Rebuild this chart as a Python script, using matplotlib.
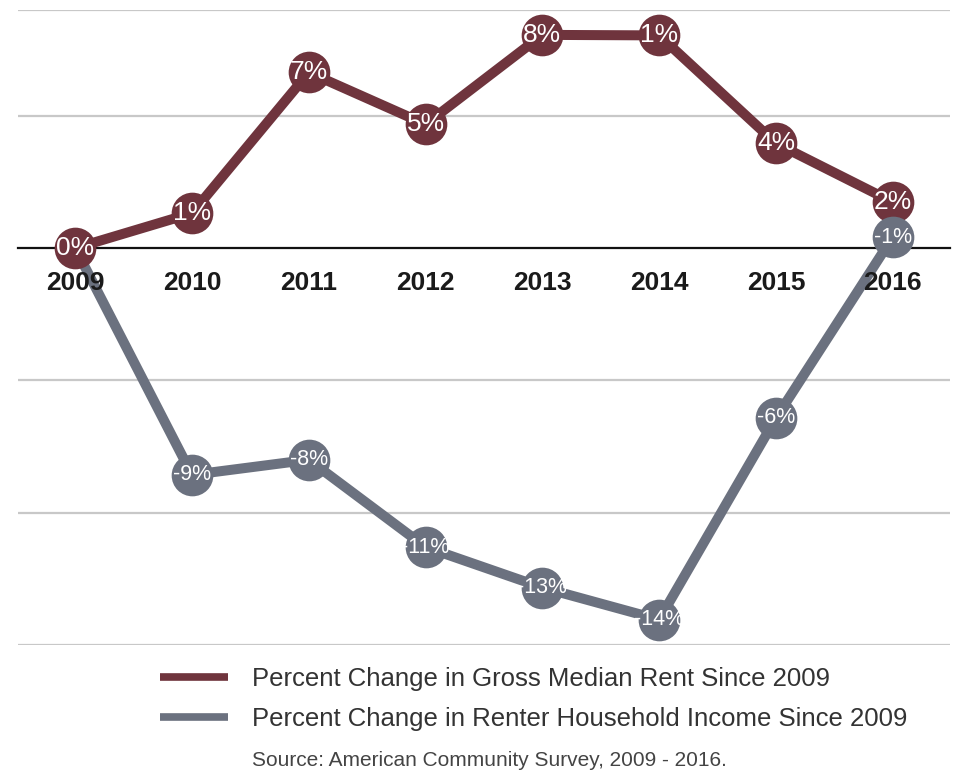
import matplotlib
matplotlib.use("Agg")
import matplotlib.pyplot as plt
import numpy as np

plt.rcParams['font.family'] = ['Liberation Sans', 'DejaVu Sans']

years = ['2009', '2010', '2011', '2012', '2013', '2014', '2015', '2016']
rent = [0.0, 1.32, 6.64, 4.68, 8.06, 8.04, 3.96, 1.74]
income = [0.0, -8.57, -8.0, -11.3, -12.83, -14.04, -6.42, 0.42]
rent_labels = ['0%', '1%', '7%', '5%', '8%', '1%', '4%', '2%']
income_labels = ['', '-9%', '-8%', '-11%', '-13%', '-14%', '-6%', '-1%']
grid_levels = [9, 5, -5, -10, -15]
series_names = ['Percent Change in Gross Median Rent Since 2009',
                'Percent Change in Renter Household Income Since 2009']
source = 'Source: American Community Survey, 2009 - 2016.'

rent_color = '#6f343d'
income_color = '#6b717f'

fig = plt.figure(figsize=(9.54, 7.75), dpi=100)
ax = fig.add_axes([18/954, 1-645/775, 932/954, 635/775])

x = np.arange(len(years))
h_inc, = ax.plot(x, income, color=income_color, lw=7.2, zorder=2, solid_capstyle='butt',
                 label=series_names[1])
h_rent, = ax.plot(x, rent, color=rent_color, lw=7.2, zorder=3, marker='o', markersize=30,
                  markeredgewidth=0, label=series_names[0])
ax.plot(x[1:], income[1:], 'o', color=income_color, markersize=30,
        markeredgewidth=0, zorder=4)

for xi, v, t in zip(x, rent, rent_labels):
    ax.text(xi, v, t, color='white', fontsize=19, ha='center', va='center', zorder=6)
for xi, v, t in zip(x, income, income_labels):
    if t:
        ax.text(xi, v, t, color='white', fontsize=15.5, ha='center', va='center', zorder=6)

ax.set_xlim(-0.49, 7.49)
ax.set_ylim(-15, 9)
ax.set_yticks(grid_levels)
ax.yaxis.grid(True, color='#c8c8c8', lw=1.6)
ax.tick_params(axis='y', left=False, labelleft=False)
ax.set_axisbelow(True)

for s in ['top', 'left', 'right']:
    ax.spines[s].set_visible(False)
ax.spines['bottom'].set_position(('data', 0))
ax.spines['bottom'].set_color('#111111')
ax.spines['bottom'].set_linewidth(1.6)
ax.spines['bottom'].set_zorder(1)
ax.set_xticks(x)
ax.set_xticklabels(years, fontsize=19, fontweight='bold', color='#1a1a1a')
ax.tick_params(axis='x', bottom=False, pad=13)
ax.xaxis.set_zorder(5)
ax.patch.set_visible(False)

leg = fig.legend(handles=[h_rent, h_inc], loc='upper left',
                 bbox_to_anchor=(160/954, 1-667/775), frameon=False,
                 borderpad=0, borderaxespad=0,
                 fontsize=18.5, handlelength=2.65, handletextpad=0.93, labelspacing=0.64,
                 labelcolor='#333333')
for lh in leg.get_lines():
    lh.set_linewidth(5.5)
    lh.set_marker('')
    lh.set_solid_capstyle('butt')

fig.text(252/954, 1-760/775, source, fontsize=15, color='#444444', va='center', ha='left')

fig.savefig('out.png', dpi=100)
